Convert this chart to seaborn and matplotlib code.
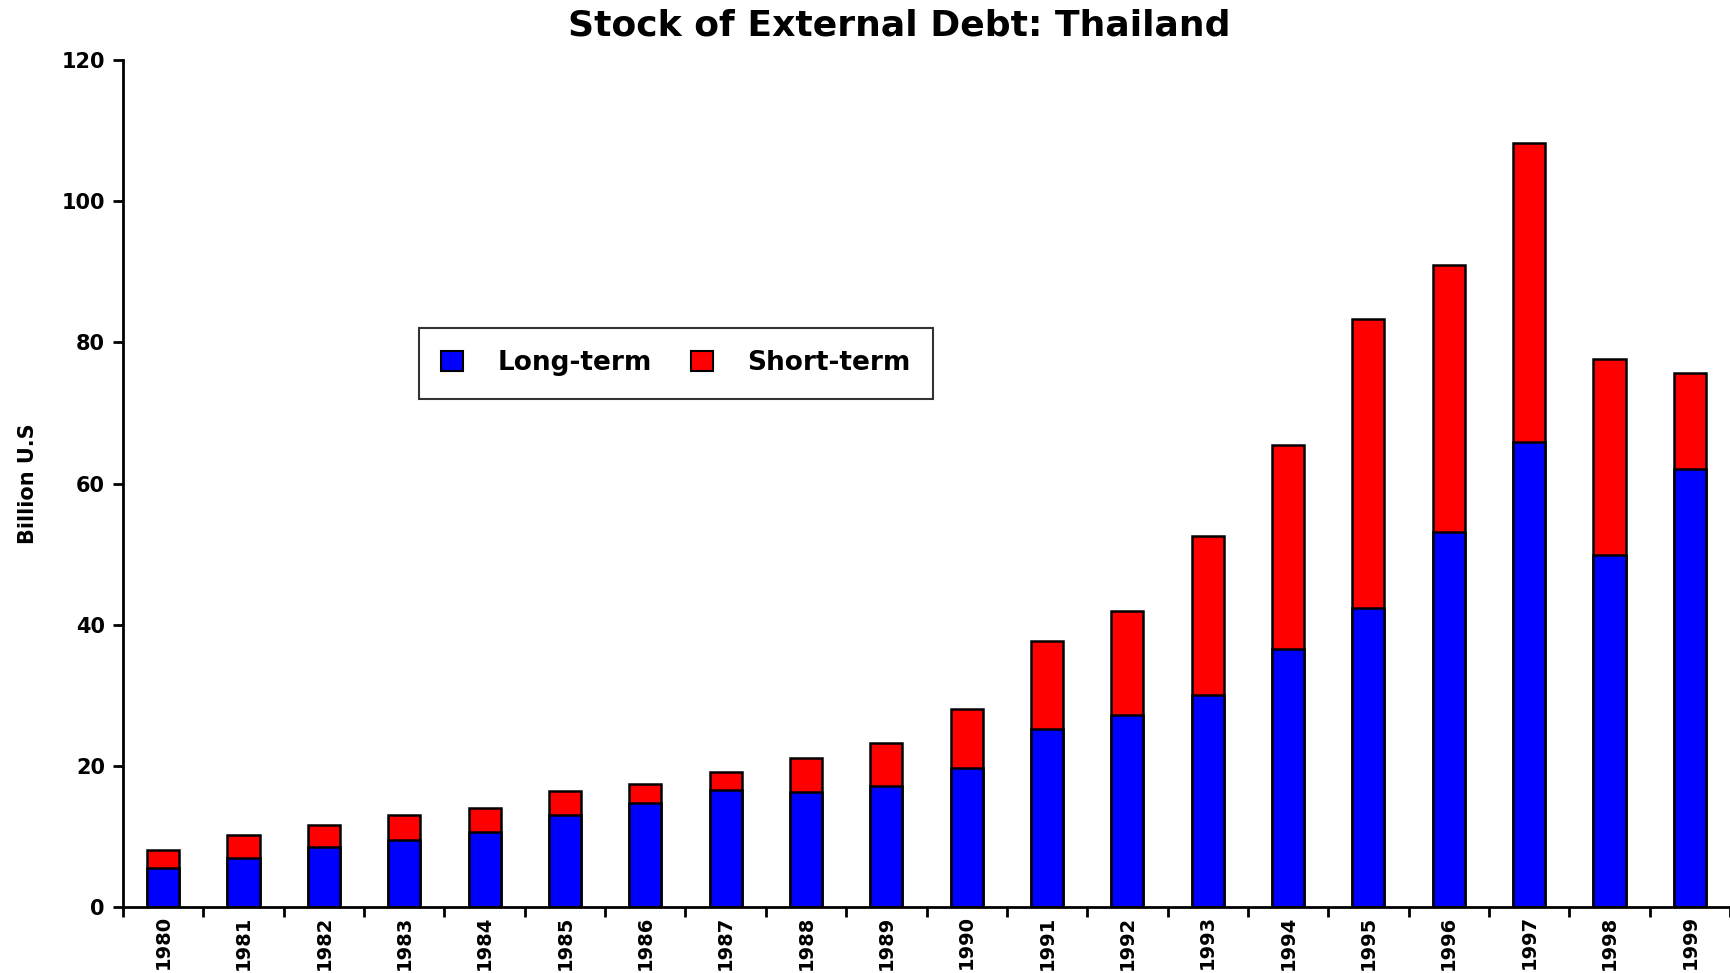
import matplotlib
matplotlib.use("Agg")
import matplotlib.pyplot as plt
from matplotlib.patches import Patch
from matplotlib.ticker import FixedLocator
import pandas as pd
import seaborn as sns

years = [str(y) for y in range(1980, 2000)]
long_term = [5.6, 7.0, 8.5, 9.5, 10.6, 13.1, 14.7, 16.6, 16.3, 17.2,
             19.7, 25.2, 27.2, 30.0, 36.6, 42.3, 53.2, 65.9, 49.9, 62.1]
total = [8.1, 10.2, 11.6, 13.0, 14.1, 16.4, 17.5, 19.1, 21.1, 23.2,
         28.0, 37.7, 41.9, 52.6, 65.4, 83.3, 90.9, 108.3, 77.6, 75.6]

df = pd.DataFrame({"year": years, "long": long_term, "total": total})

sns.set_style("ticks")
plt.rcParams["font.family"] = ["DejaVu Sans"]
plt.rcParams["font.weight"] = "bold"
for key in ["text.color", "axes.labelcolor", "xtick.color", "ytick.color",
            "axes.edgecolor"]:
    plt.rcParams[key] = "black"

fig = plt.figure(figsize=(17.3, 9.73), dpi=100)
ax = fig.add_axes([0.0711, 0.0678, 0.9289, 0.8705])

# total first (red), long-term drawn over it (blue)
sns.barplot(data=df, x="year", y="total", color="#ff0000", saturation=1,
            width=0.4, edgecolor="black", linewidth=1.8, ax=ax)
sns.barplot(data=df, x="year", y="long", color="#0000ff", saturation=1,
            width=0.4, edgecolor="black", linewidth=1.8, ax=ax)

ax.set_xlim(-0.5, len(years) - 0.5)
ax.set_ylim(0, 120)
ax.set_yticks(range(0, 121, 20))
ax.set_xlabel("")
ax.set_ylabel("Billion U.S", fontsize=15, fontweight="bold")
ax.yaxis.set_label_coords(-0.053, 0.5)

ax.tick_params(axis="x", which="major", length=0, pad=6, labelsize=14,
               labelrotation=90)
ax.xaxis.set_minor_locator(FixedLocator([i - 0.5 for i in range(len(years) + 1)]))
ax.tick_params(axis="x", which="minor", length=7, width=2, direction="out")
ax.tick_params(axis="y", length=7, width=2, labelsize=15, pad=6)
for lab in ax.get_xticklabels() + ax.get_yticklabels():
    lab.set_fontweight("bold")

sns.despine(ax=ax)
ax.spines["left"].set_linewidth(2)
ax.spines["bottom"].set_linewidth(2)

fig.text(0.52, 0.974, "Stock of External Debt: Thailand", fontsize=26,
         fontweight="bold", ha="center", va="center")

handles = [Patch(facecolor="#0000ff", edgecolor="black", linewidth=1.5),
           Patch(facecolor="#ff0000", edgecolor="black", linewidth=1.5)]
leg = ax.legend(handles, ["Long-term", "Short-term"], ncol=2,
                loc="upper left", bbox_to_anchor=(0.184, 0.684),
                frameon=True, fancybox=False, edgecolor="black",
                prop={"size": 19, "weight": "bold"},
                handlelength=0.83, handleheight=0.83, handletextpad=1.3,
                columnspacing=1.5, borderpad=0.85, borderaxespad=0)
leg.get_frame().set_linewidth(1.5)

fig.savefig("out.png", dpi=100)
